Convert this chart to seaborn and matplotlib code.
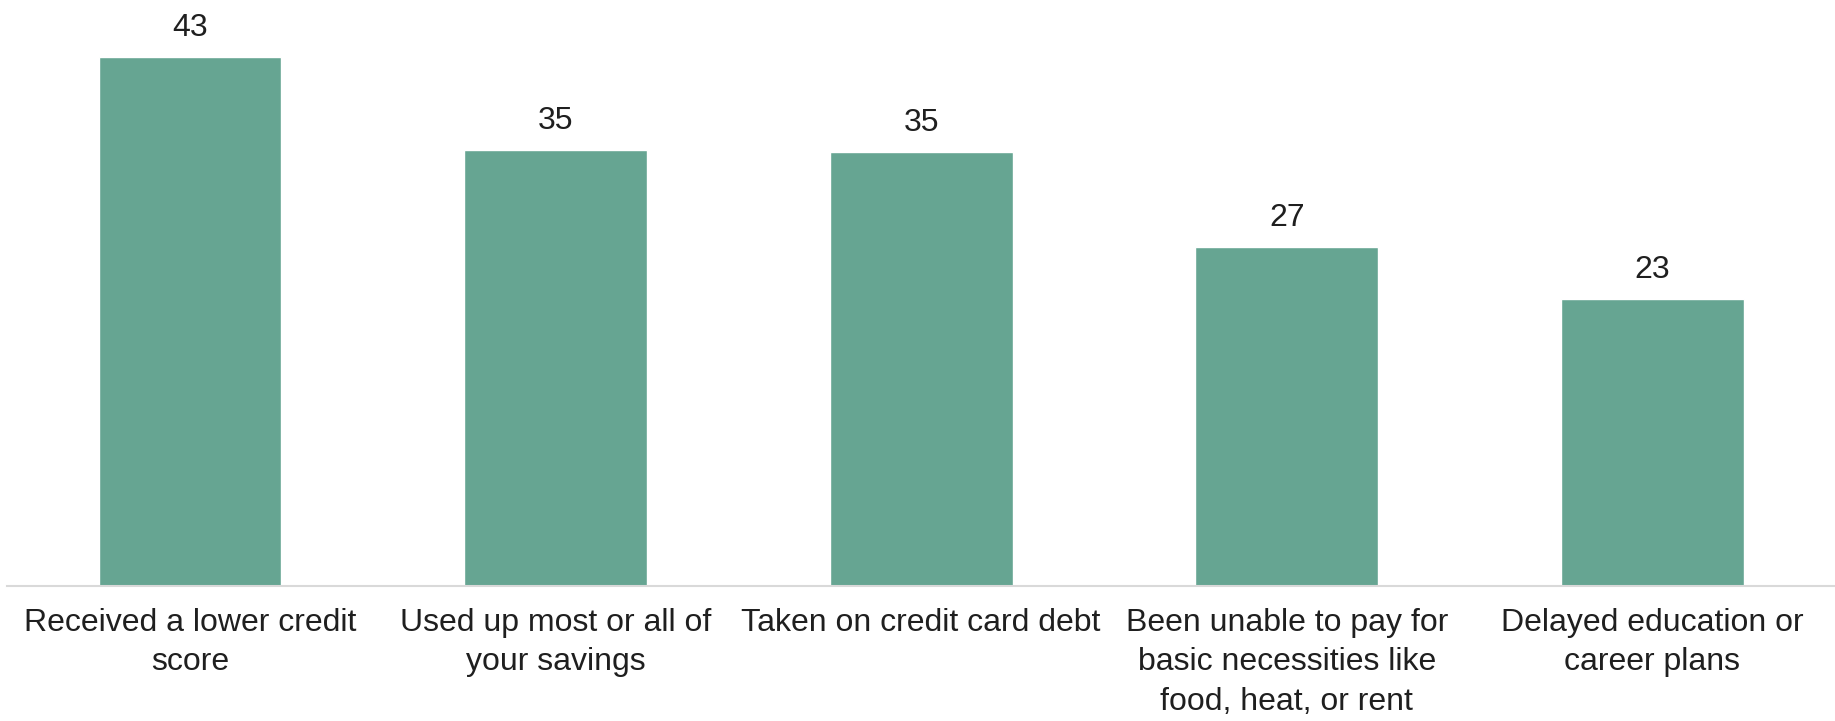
import matplotlib
matplotlib.use("Agg")
import matplotlib.pyplot as plt
import seaborn as sns
import pandas as pd

categories = [
    "Received a lower credit score",
    "Used up most or all of your savings",
    "Taken on credit card debt",
    "Been unable to pay for basic necessities like food, heat, or rent",
    "Delayed education or career plans",
]
tick_labels = [
    "Received a lower credit\nscore",
    "Used up most or all of\nyour savings",
    "Taken on credit card debt",
    "Been unable to pay for\nbasic necessities like\nfood, heat, or rent",
    "Delayed education or\ncareer plans",
]
values = [42.6, 35.1, 35.0, 27.3, 23.1]

sns.set_theme(style="white")
plt.rcParams["font.family"] = ["Liberation Sans", "DejaVu Sans"]

df = pd.DataFrame({"cat": categories, "val": values})

fig = plt.figure(figsize=(18.35, 7.21), dpi=100)
ax = fig.add_axes([0.004, 0.1872, 0.996, 0.785])
sns.barplot(data=df, x="cat", y="val", color="#66a592", saturation=1,
            width=0.5, ax=ax)

ax.set_ylim(0, 45.6)
ax.set_xlim(-0.5, 4.5)
ax.set_xlabel("")
ax.set_ylabel("")
ax.set_yticks([])
ax.set_xticks(range(len(tick_labels)))
ax.set_xticklabels(tick_labels, fontsize=23, color="#1f1f1f", linespacing=1.4)
ax.tick_params(axis="x", length=0, pad=16)

for s in ["top", "right", "left"]:
    ax.spines[s].set_visible(False)
ax.spines["bottom"].set_color("#d9d9d9")
ax.spines["bottom"].set_linewidth(1.5)

for c in ax.containers:
    ax.bar_label(c, labels=[f"{v:.0f}" for v in values], padding=10,
                 fontsize=23, color="#1f1f1f")

fig.savefig("out.png", dpi=100, facecolor="white")
